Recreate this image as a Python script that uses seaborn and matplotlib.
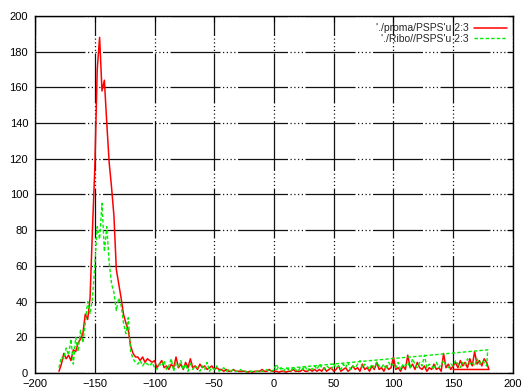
import numpy as np
import pandas as pd
import matplotlib
matplotlib.use("Agg")
import matplotlib.pyplot as plt
import seaborn as sns

# angle axis, 2 degree bins
angles = list(range(-180, 180, 2))

proma_counts = [
    1, 5, 11, 8, 10, 7, 13, 12, 17, 19,
    22, 33, 30, 42, 80, 115, 170, 188, 158, 164,
    140, 118, 104, 88, 58, 50, 42, 33, 28, 24,
    15, 11, 9, 9, 7, 9, 6, 8, 7, 6,
    7, 3, 5, 7, 3, 4, 2, 5, 3, 9,
    3, 5, 2, 6, 3, 8, 3, 4, 2, 5,
    3, 4, 2, 3, 4, 2, 3, 2, 2, 1,
    2, 1, 1, 2, 1, 1, 1, 1, 1, 0.5,
    1, 0.5, 1, 1, 1, 2, 1, 1, 2, 1,
    1, 1, 0.5, 1, 1, 0.5, 1, 1, 2, 1,
    1, 1, 2, 1, 1, 2, 1, 2, 1, 2,
    1, 3, 1, 2, 3, 1, 2, 4, 1, 2,
    3, 1, 2, 4, 2, 3, 1, 5, 2, 3,
    1, 4, 2, 6, 2, 3, 1, 4, 2, 3,
    9, 2, 3, 1, 4, 2, 10, 3, 5, 2,
    6, 3, 2, 4, 1, 3, 2, 5, 2, 3,
    1, 11, 3, 5, 2, 4, 6, 3, 7, 4,
    6, 3, 8, 4, 12, 5, 7, 4, 8, 6,
]

ribo_counts = [
    3, 9, 8, 14, 10, 19, 5, 20, 12, 24,
    17, 28, 40, 33, 42, 60, 82, 75, 95, 68,
    82, 62, 50, 45, 35, 42, 38, 28, 22, 31,
    12, 8, 6, 5, 7, 4, 6, 5, 4, 6,
    3, 2, 5, 4, 7, 2, 4, 8, 1, 6,
    3, 7, 2, 5, 1, 6, 2, 4, 3, 1,
    4, 2, 6, 1, 3, 2, 4, 1, 2, 3,
    1, 2, 1, 2, 1, 1, 2, 1, 1, 0.5,
    1, 1, 0.5, 1, 1, 1, 1, 2, 1, 1,
    2, 5, 2, 3, 1, 3, 2, 1, 3, 2,
    1, 3, 2, 4, 1, 3, 2, 4, 2, 5,
    3, 2, 4, 3, 2, 5, 3, 4, 2, 5,
    3, 6, 2, 4, 3, 5, 7, 3, 5, 4,
    2, 5, 3, 6, 4, 3, 5, 2, 6, 4,
    5, 3, 6, 2, 5, 4, 6, 3, 8, 5,
    3, 6, 4, 10, 3, 5, 4, 2, 6, 3,
    5, 7, 4, 3, 5, 4, 7, 5, 3, 6,
    4, 8, 5, 6, 4, 8, 5, 7, 6, 4,
]

# the data files wrap around, gnuplot joins the last rows back
proma_tail_x = [180, 150]
proma_tail_y = [2, 2]
ribo_tail_x = [179, 0]
ribo_tail_y = [13, 2]

proma = pd.DataFrame({"phi": angles + proma_tail_x, "n": proma_counts + proma_tail_y})
ribo = pd.DataFrame({"phi": angles + ribo_tail_x, "n": ribo_counts + ribo_tail_y})

sns.set_style("white")
plt.rcParams["font.family"] = ["Liberation Sans", "DejaVu Sans"]

fig = plt.figure(figsize=(5.32, 3.89), dpi=100)
ax = fig.add_axes([0.066, 0.041, 0.898, 0.918])

sns.lineplot(data=proma, x="phi", y="n", sort=False, estimator=None, ax=ax,
             color="#ff0000", linewidth=1.1, label="'./proma/PSPS'u 2:3")
sns.lineplot(data=ribo, x="phi", y="n", sort=False, estimator=None, ax=ax,
             color="#00ee00", linewidth=1.0, linestyle=(0, (2.5, 1.5)),
             label="'./Ribo//PSPS'u 2:3")

ax.set_xlim(-200, 200)
ax.set_ylim(0, 200)
ax.set_xticks(range(-200, 201, 50))
ax.set_yticks(range(0, 201, 20))
ax.set_xlabel("")
ax.set_ylabel("")

ax.grid(True, color="#111111", linewidth=0.9,
        linestyle=(0, (40, 2, 1, 2, 1, 2, 1, 2, 1, 2)))
ax.set_axisbelow(True)
for s in ax.spines.values():
    s.set_color("black")
    s.set_linewidth(1.0)
ax.tick_params(direction="in", length=4, labelsize=8, colors="black",
               top=True, right=True)
ax.tick_params(axis="y", pad=5)
ax.tick_params(axis="x", pad=4)

leg = ax.legend(loc="upper right", bbox_to_anchor=(1.0, 0.997), frameon=False,
                markerfirst=False, fontsize=7.5, handlelength=3.1,
                handletextpad=0.5, labelspacing=0.05, borderaxespad=0.2)
for t in leg.get_texts():
    t.set_ha("right")

fig.savefig("out.png", dpi=100)
